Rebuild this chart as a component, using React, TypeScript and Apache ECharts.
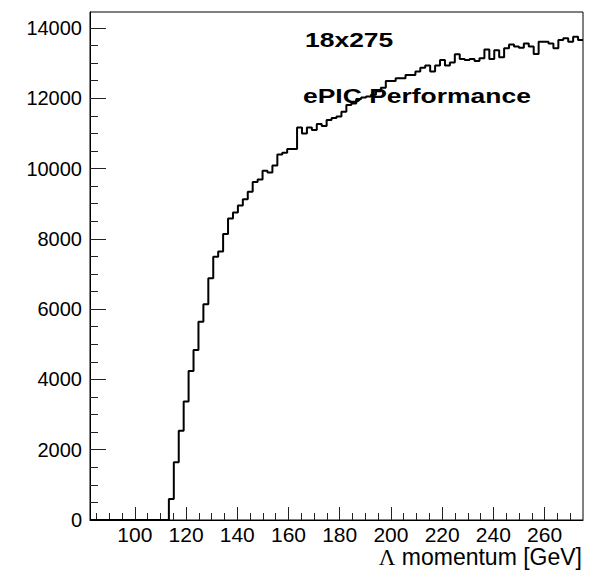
import React, { useEffect, useRef } from "react";
import * as echarts from "echarts";

// Histogram binning (100 bins from 82.5 to 275 GeV)
const binLow = 82.5;
const binWidth = 1.925;
const binCounts = [
  0, 0, 0, 0, 0, 0, 0, 0, 0, 0, 0, 0, 0, 0, 0, 0,
  600, 1640, 2540, 3370, 4240, 4840, 5640, 6140, 6880, 7490,
  7640, 8140, 8580, 8750, 8950, 9130, 9340, 9620, 9690, 9940,
  9890, 10090, 10400, 10450, 10560, 10560, 11170, 11000, 11170, 11100,
  11270, 11210, 11380, 11440, 11480, 11620, 11810, 11850, 11980, 12020,
  12050, 12100, 12200, 12300, 12490, 12490, 12570, 12570, 12660, 12660,
  12760, 12870, 12930, 12760, 12930, 13090, 12930, 13020, 13250, 13120,
  13090, 13120, 13060, 13140, 13390, 13120, 13370, 13170, 13420, 13530,
  13470, 13440, 13560, 13470, 13260, 13610, 13610, 13560, 13420, 13660,
  13710, 13610, 13750, 13660,
];

const xMajorTicks = [100, 120, 140, 160, 180, 200, 220, 240, 260];
const xMinorTicks = [
  85, 90, 95, 105, 110, 115, 125, 130, 135, 145, 150, 155, 165, 170, 175,
  185, 190, 195, 205, 210, 215, 225, 230, 235, 245, 250, 255, 265, 270,
];
const yMajorTicks = [0, 2000, 4000, 6000, 8000, 10000, 12000, 14000];
const yMinorTicks = [
  500, 1000, 1500, 2500, 3000, 3500, 4500, 5000, 5500, 6500, 7000, 7500,
  8500, 9000, 9500, 10500, 11000, 11500, 12500, 13000, 13500,
];

const xMin = 82.5;
const xMax = 275;
const yMin = 0;
const yMax = 14455;

const xTitle = "{g|Λ} momentum [GeV]";
const label1 = "18x275";
const label2 = "ePIC Performance";

export default function App() {
  const ref = useRef<HTMLDivElement>(null);

  useEffect(() => {
    document.body.style.margin = "0";
    if (!ref.current) return;
    const chart = echarts.init(ref.current, undefined, { renderer: "svg" });

    const points: number[][] = binCounts.map((c, k) => [binLow + k * binWidth, c]);
    points.push([binLow + binCounts.length * binWidth, binCounts[binCounts.length - 1]]);

    const font = "Liberation Sans, Arial, Helvetica, sans-serif";
    const tickColor = "#222";
    const plain = (v: number) => String(v);

    chart.setOption({
      animation: false,
      backgroundColor: "#fff",
      grid: {
        left: 90,
        top: 12,
        right: 14,
        bottom: 57,
        show: true,
        borderColor: "#000",
        borderWidth: 1,
        backgroundColor: "transparent",
      },
      xAxis: [
        {
          type: "value",
          min: xMin,
          max: xMax,
          position: "bottom",
          axisLine: { show: true, lineStyle: { color: "#000", width: 1 } },
          axisTick: {
            show: true,
            inside: true,
            length: 13,
            customValues: xMajorTicks,
            lineStyle: { color: tickColor, width: 1 },
          },
          axisLabel: {
            show: true,
            customValues: xMajorTicks,
            formatter: plain,
            fontSize: 21,
            fontFamily: font,
            color: "#000",
            margin: 4,
          },
          splitLine: { show: false },
        },
        {
          type: "value",
          min: xMin,
          max: xMax,
          position: "bottom",
          axisLine: { show: false },
          axisTick: {
            show: true,
            inside: true,
            length: 7,
            customValues: xMinorTicks,
            lineStyle: { color: tickColor, width: 1 },
          },
          axisLabel: { show: false },
          splitLine: { show: false },
        },
      ],
      yAxis: [
        {
          type: "value",
          min: yMin,
          max: yMax,
          position: "left",
          axisLine: { show: true, lineStyle: { color: "#000", width: 1 } },
          axisTick: {
            show: true,
            inside: true,
            length: 16,
            customValues: yMajorTicks,
            lineStyle: { color: tickColor, width: 1 },
          },
          axisLabel: {
            show: true,
            customValues: yMajorTicks,
            formatter: plain,
            fontSize: 20,
            fontFamily: font,
            color: "#000",
            margin: 8,
          },
          splitLine: { show: false },
        },
        {
          type: "value",
          min: yMin,
          max: yMax,
          position: "left",
          axisLine: { show: false },
          axisTick: {
            show: true,
            inside: true,
            length: 8,
            customValues: yMinorTicks,
            lineStyle: { color: tickColor, width: 1 },
          },
          axisLabel: { show: false },
          splitLine: { show: false },
        },
      ],
      series: [
        {
          type: "line",
          xAxisIndex: 0,
          yAxisIndex: 0,
          step: "end",
          data: points,
          showSymbol: false,
          symbol: "none",
          clip: true,
          lineStyle: { color: "#000", width: 2 },
          z: 5,
        },
      ],
      graphic: [
        {
          type: "text",
          x: 305,
          y: 39.7,
          scaleX: 1.26,
          z: 10,
          style: {
            text: label1,
            fontSize: 21,
            fontWeight: "bold",
            fontFamily: font,
            fill: "#000",
            align: "left",
            textAlign: "left",
            verticalAlign: "middle",
            textVerticalAlign: "middle",
          },
        },
        {
          type: "text",
          x: 303,
          y: 96,
          scaleX: 1.26,
          z: 10,
          style: {
            text: label2,
            fontSize: 21,
            fontWeight: "bold",
            fontFamily: font,
            fill: "#000",
            align: "left",
            textAlign: "left",
            verticalAlign: "middle",
            textVerticalAlign: "middle",
          },
        },
        {
          type: "text",
          x: 582,
          y: 557,
          z: 10,
          style: {
            text: xTitle,
            fontSize: 23,
            fontFamily: font,
            fill: "#000",
            align: "right",
            textAlign: "right",
            verticalAlign: "middle",
            textVerticalAlign: "middle",
            rich: {
              g: { fontSize: 23, fontFamily: "Liberation Serif, Times New Roman, serif", fill: "#000" },
            },
          },
        },
      ],
    });

    return () => {
      chart.dispose();
    };
  }, []);

  return <div ref={ref} style={{ width: 597, height: 577 }} />;
}
